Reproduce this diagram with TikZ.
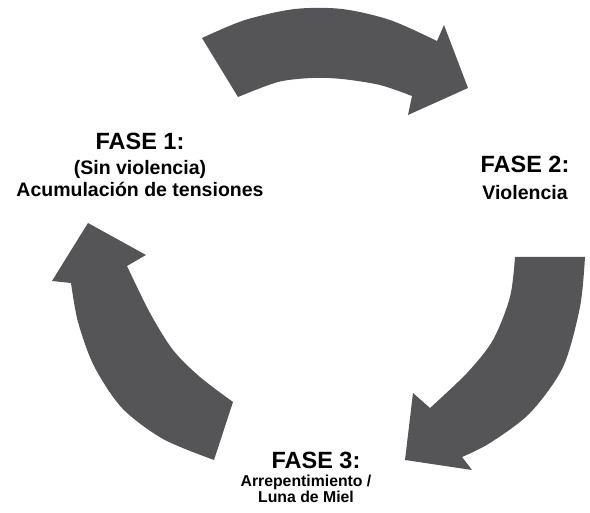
\documentclass[tikz,border=0pt]{standalone}
\usepackage{fontspec}
\setmainfont{Liberation Sans}
\definecolor{arrowgray}{RGB}{85,85,87}

\begin{document}
\begin{tikzpicture}[x=1pt,y=-1pt,
    arrowfill/.style={fill=arrowgray},
    phasetitle/.style={font=\bfseries\fontsize{23.5}{23.5}\selectfont,anchor=base,inner sep=0pt},
    phasetext/.style={font=\bfseries\fontsize{19.5}{19.5}\selectfont,anchor=base,inner sep=0pt},
    phasesmall/.style={font=\bfseries\fontsize{15.8}{15.8}\selectfont,anchor=base,inner sep=0pt}]
      \useasboundingbox (0,0) rectangle (590,513);
      % Drawing arrows
      % Arrow: fase 1 to fase 2 (top)
      \path[arrowfill] (202,38) -- plot[smooth] coordinates {(202,38) (245,20) (295,9) (342,9) (390,20) (437,41)}
        -- (444,25) -- (468,88) -- (408,115) -- (412,96)
        -- plot[smooth] coordinates {(412,96) (380,85) (342,79) (312,78) (278,82) (238,97)} -- cycle;
      % Arrow: fase 2 to fase 3 (right)
      \path[arrowfill] (585,257) -- plot[smooth] coordinates {(585,257) (580,307) (563,367) (530,413) (490,443) (462,457)}
        -- (472,470) -- (405,460) -- (413,393) -- (430,408)
        -- plot[smooth] coordinates {(430,408) (467,373) (493,340) (510,297) (515,257)} -- cycle;
      % Arrow: fase 3 to fase 1 (left)
      \path[arrowfill] (214,460) -- plot[smooth] coordinates {(214,460) (163,439) (122,408) (94,366) (78,322) (71,283)}
        -- (52,281) -- (88,223) -- (146,255) -- (127,266)
        -- plot[smooth] coordinates {(127,266) (150,313) (173,350) (200,377) (233,402)} -- cycle;
      % Done with arrows; drawing phase labels
      % Fase 1
      \node[phasetitle] (f1) at (140,150) {FASE 1:};
      \node[phasetext] (f1a) at (140,175) {(Sin violencia)};
      \node[phasetext] (f1b) at (140,197) {Acumulación de tensiones};
      % Fase 2
      \node[phasetitle] (f2) at (525,173) {FASE 2:};
      \node[phasetext] (f2a) at (525,200) {Violencia};
      % Fase 3
      \node[phasetitle] (f3) at (316,468) {FASE 3:};
      \node[phasesmall] (f3a) at (306,486) {Arrepentimiento /};
      \node[phasesmall] (f3b) at (306,503) {Luna de Miel};
      % Done with labels
    \end{tikzpicture}
\end{document}
